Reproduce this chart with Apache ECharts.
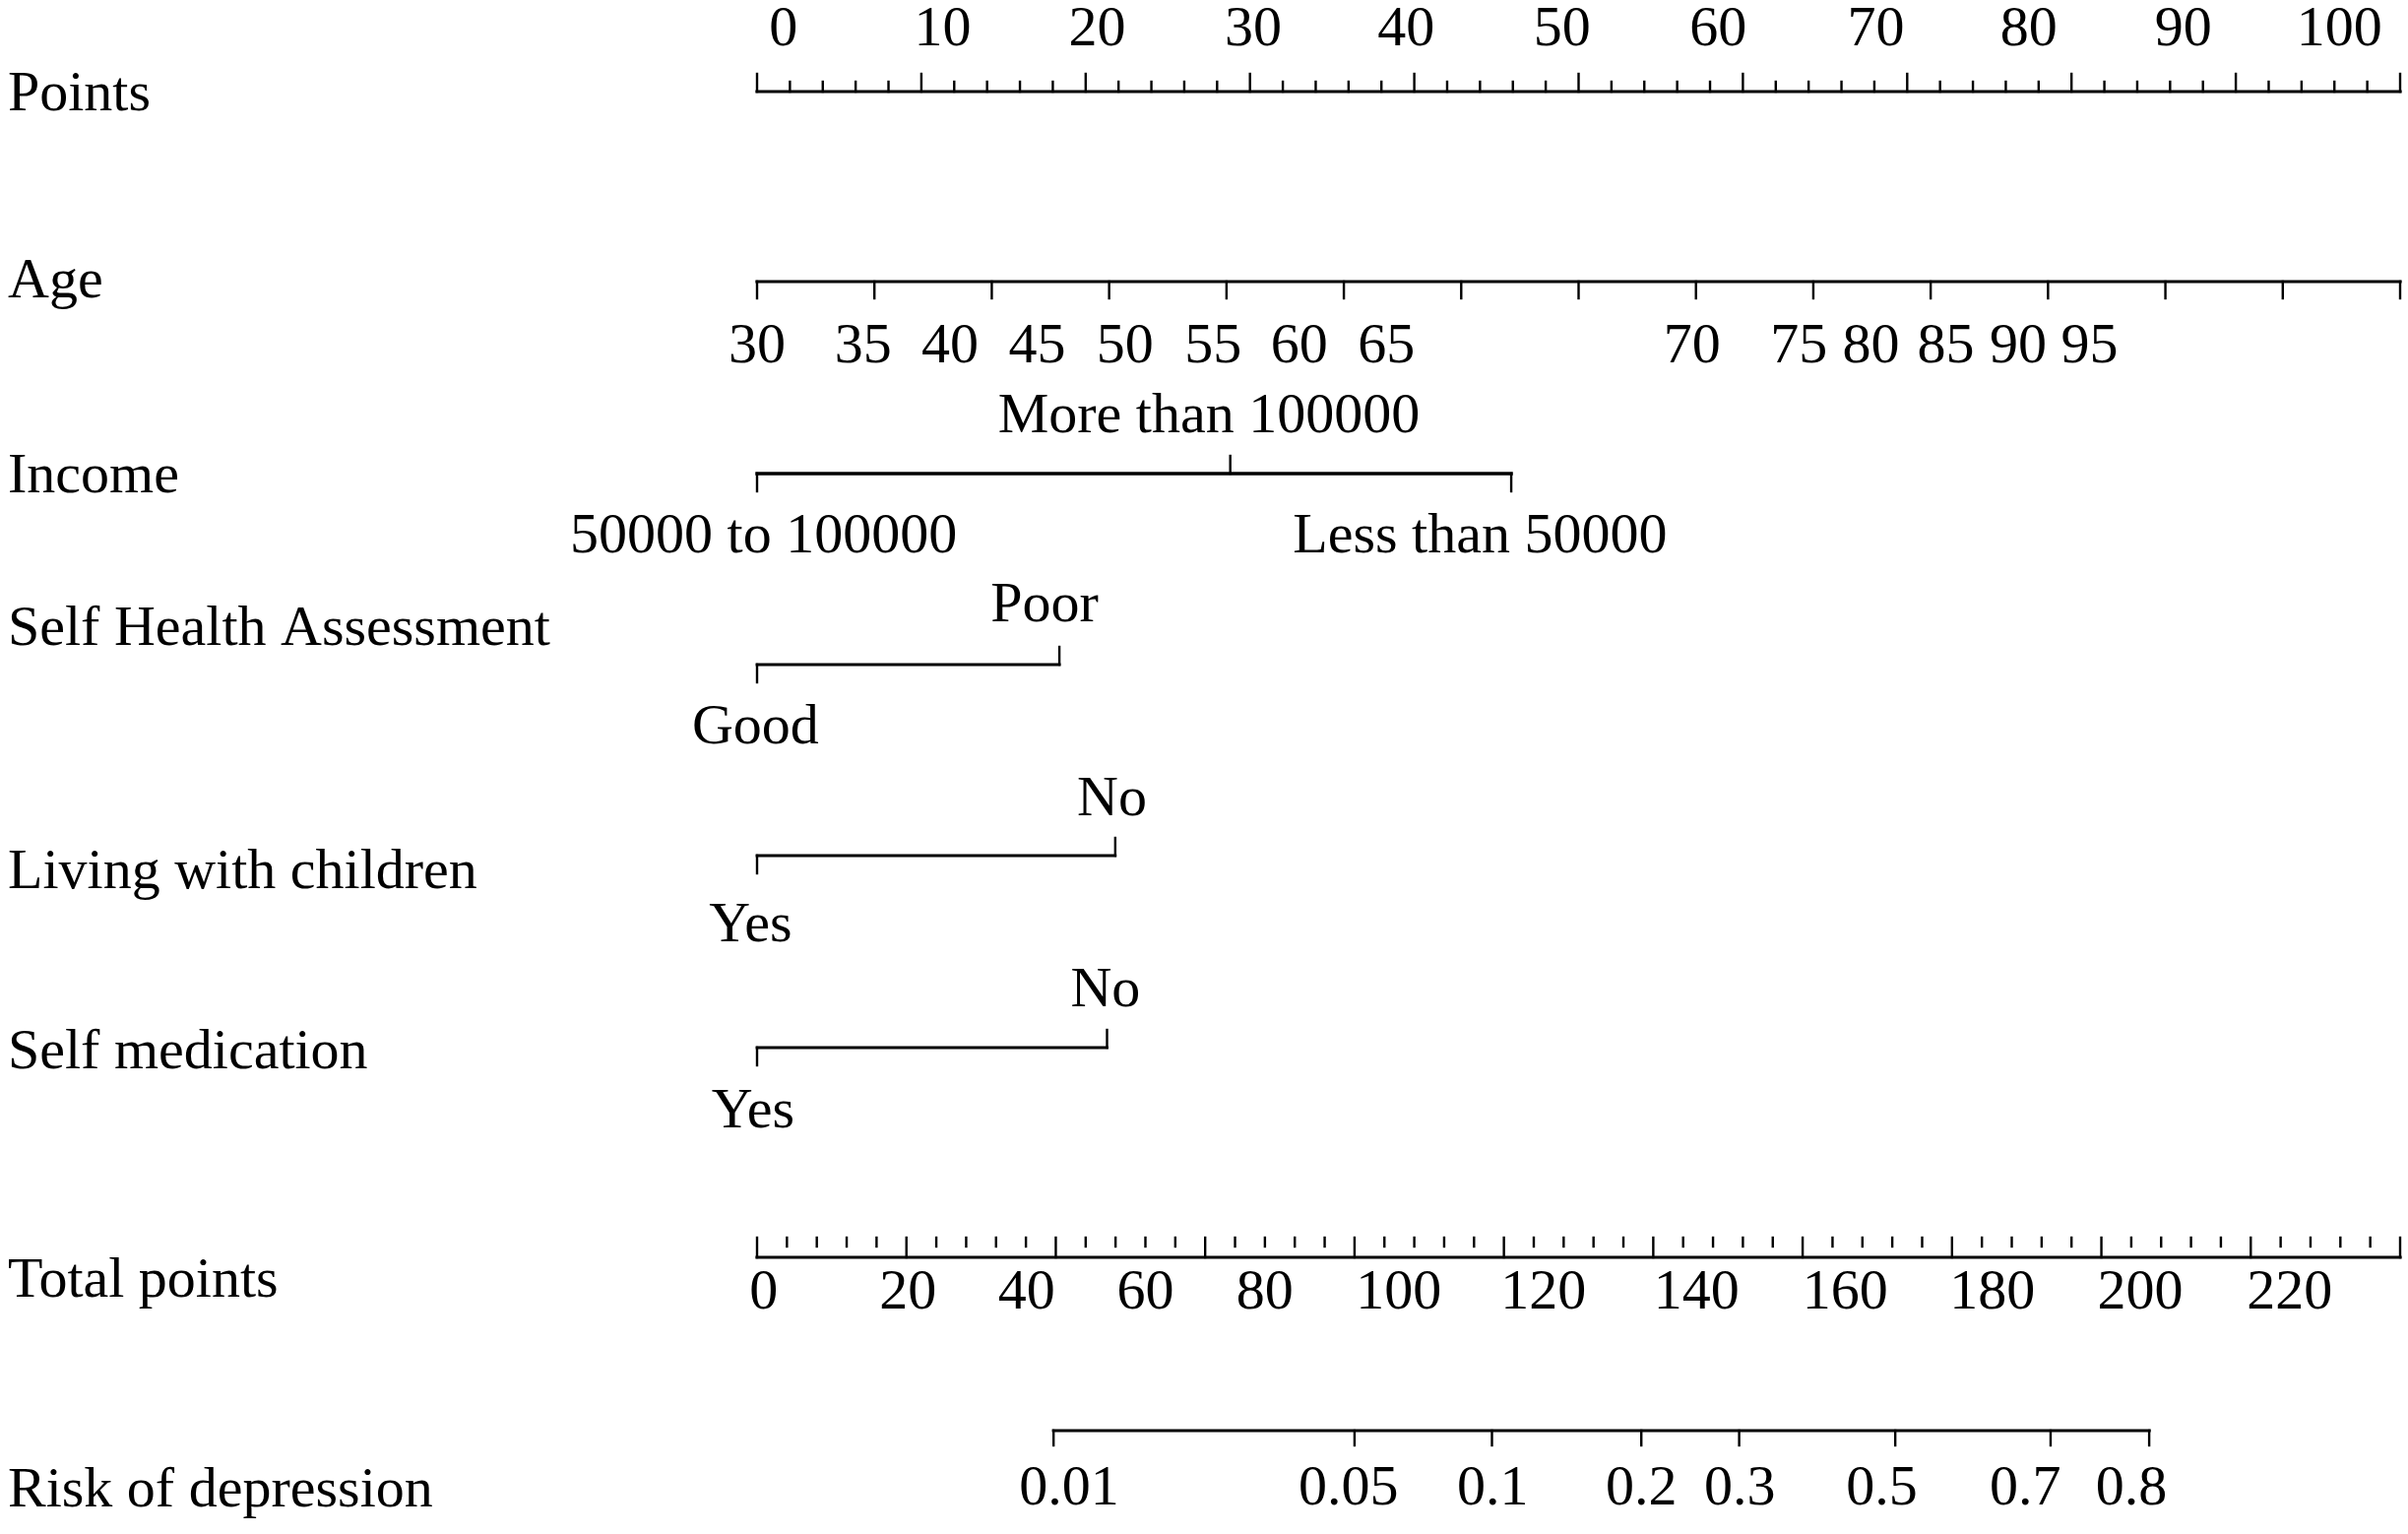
<!DOCTYPE html>
<html>
<head>
<meta charset="utf-8">
<script src="https://cdn.jsdelivr.net/npm/echarts@6/dist/echarts.min.js"></script>
<style>
  html, body { margin: 0; padding: 0; background: #fff; }
  #nomogram { width: 2446px; height: 1558px; }
</style>
</head>
<body>
<div id="nomogram"></div>
<script>
// row names, top to bottom
var rowNames = ['Points', 'Age', 'Income', 'Self Health Assessment',
  'Living with children', 'Self medication', 'Total points', 'Risk of depression'];

// points scale (0-100): tick labels and where each label sits on the scale
var pointsLabels = [0, 10, 20, 30, 40, 50, 60, 70, 80, 90, 100];
var pointsLabelAt = [1.6, 11.3, 20.7, 30.2, 39.5, 49.0, 58.5, 68.1, 77.4, 86.8, 96.3];

// age: value -> points
var ageLabels = [30, 35, 40, 45, 50, 55, 60, 65, 70, 75, 80, 85, 90, 95];
var agePoints = [0, 6.45, 11.75, 17.05, 22.4, 27.75, 33.0, 38.3, 56.9, 63.4, 67.8, 72.35, 76.75, 81.1];
var ageTickSteps = 14;

// categorical predictors: level -> points
var incomeLevels = ['50000 to 100000', 'More than 100000', 'Less than 50000'];
var incomePoints = [0, 28.8, 45.9];
var incomeLabelAt = [0.4, 27.5, 44.0];

var healthLevels = ['Good', 'Poor'];
var healthPoints = [0, 18.4];
var healthLabelAt = [-0.1, 17.5];

var childrenLevels = ['Yes', 'No'];
var childrenPoints = [0, 21.8];
var childrenLabelAt = [-0.4, 21.6];

var medicationLevels = ['Yes', 'No'];
var medicationPoints = [0, 21.3];
var medicationLabelAt = [-0.25, 21.2];

// total points scale (0-220)
var totalLabels = [0, 20, 40, 60, 80, 100, 120, 140, 160, 180, 200, 220];
var totalLabelAt = [0.9, 20.2, 36.1, 52.0, 68.0, 85.9, 105.3, 125.8, 145.7, 165.4, 185.2, 205.2];

// risk: probability -> total points
var riskLabels = ['0.01', '0.05', '0.1', '0.2', '0.3', '0.5', '0.7', '0.8'];
var riskPoints = [39.7, 80.0, 98.4, 118.4, 131.5, 152.4, 173.2, 186.4];
var riskLabelAt = [41.8, 79.2, 98.5, 118.4, 131.6, 150.6, 169.8, 184.0];

// vertical layout (px)
var rowLabelY = [97, 287, 485, 640, 887, 1070, 1302, 1515];
var lineY = { points: 93, age: 286, income: 481, health: 675, children: 869, medication: 1064, total: 1277, risk: 1453 };
var FONT = '58px "Liberation Serif", "Times New Roman", serif';
var TICK = 18;

var segP = [], segT = [], txtP = [], txtT = [];
function seg(arr, x1, y1, x2, y2, w) { arr.push([x1, y1, x2, y2, w]); }
function txt(arr, x, y, s) { arr.push({ value: [x, y], name: String(s) }); }

// Points axis
seg(segP, 0, lineY.points, 100, lineY.points, 3.2);
for (var v = 0; v <= 100; v += 2) {
  var major = v % 10 === 0;
  seg(segP, v, lineY.points, v, lineY.points - (major ? 18 : 10), 2.4);
}
pointsLabels.forEach(function (l, i) { txt(txtP, pointsLabelAt[i], 31, l); });

// Age axis
seg(segP, 0, lineY.age, 100, lineY.age, 3.2);
for (var k = 0; k <= ageTickSteps; k++) {
  var a = k * 100 / ageTickSteps;
  seg(segP, a, lineY.age, a, lineY.age + 17, 2.4);
}
ageLabels.forEach(function (l, i) { txt(txtP, agePoints[i], 353, l); });

// categorical rows: even levels below, odd levels above
function catRow(levels, pts, labelAt, y, w, up_off, down_off) {
  seg(segP, Math.min.apply(null, pts), y, Math.max.apply(null, pts), y, w);
  levels.forEach(function (l, i) {
    var up = i % 2 === 1;
    seg(segP, pts[i], y, pts[i], up ? y - TICK : y + TICK, 2.4);
    txt(txtP, labelAt[i], up ? y - up_off : y + down_off, l);
  });
}
catRow(incomeLevels, incomePoints, incomeLabelAt, lineY.income, 3.4, 57, 65);
catRow(healthLevels, healthPoints, healthLabelAt, lineY.health, 2.8, 59, 65);
catRow(childrenLevels, childrenPoints, childrenLabelAt, lineY.children, 2.8, 56, 72);
catRow(medicationLevels, medicationPoints, medicationLabelAt, lineY.medication, 2.8, 57, 66);

// Total points axis (minor ticks float above the line)
seg(segT, 0, lineY.total, 220, lineY.total, 3.2);
for (var t = 0; t <= 220; t += 4) {
  if (t % 20 === 0) seg(segT, t, lineY.total, t, lineY.total - 20, 2.4);
  else seg(segT, t, lineY.total - 11, t, lineY.total - 20, 2.4);
}
totalLabels.forEach(function (l, i) { txt(txtT, totalLabelAt[i], 1314, l); });

// Risk axis
seg(segT, riskPoints[0], lineY.risk, riskPoints[riskPoints.length - 1], lineY.risk, 3.2);
riskPoints.forEach(function (p) { seg(segT, p, lineY.risk, p, lineY.risk + 15, 2.4); });
riskLabels.forEach(function (l, i) { txt(txtT, riskLabelAt[i], 1513, l); });

function renderSeg(params, api) {
  var p1 = api.coord([api.value(0), api.value(1)]);
  var p2 = api.coord([api.value(2), api.value(3)]);
  return {
    type: 'line',
    shape: { x1: p1[0], y1: p1[1], x2: p2[0], y2: p2[1] },
    style: { stroke: '#000', lineWidth: api.value(4), lineCap: 'square' }
  };
}

function textRenderer(list) {
  return function (params, api) {
    var p = api.coord([api.value(0), api.value(1)]);
    return {
      type: 'text', x: p[0], y: p[1],
      style: {
        text: list[params.dataIndex].name, font: FONT, fill: '#000',
        textAlign: 'center', textVerticalAlign: 'middle', align: 'center', verticalAlign: 'middle'
      }
    };
  };
}

var option = {
  animation: false,
  backgroundColor: '#fff',
  grid: { left: 769, right: 8, top: 0, bottom: 0 },
  xAxis: [
    { type: 'value', min: 0, max: 100, show: false },
    { type: 'value', min: 0, max: 220, show: false }
  ],
  yAxis: { type: 'value', min: 0, max: 1558, inverse: true, show: false },
  graphic: rowNames.map(function (n, i) {
    return {
      type: 'text', x: 8, y: rowLabelY[i],
      style: { text: n, font: FONT, fill: '#000', textVerticalAlign: 'middle', verticalAlign: 'middle' }
    };
  }),
  series: [
    { type: 'custom', xAxisIndex: 0, renderItem: renderSeg, data: segP, silent: true },
    { type: 'custom', xAxisIndex: 1, renderItem: renderSeg, data: segT, silent: true },
    { type: 'custom', xAxisIndex: 0, renderItem: textRenderer(txtP), data: txtP, silent: true },
    { type: 'custom', xAxisIndex: 1, renderItem: textRenderer(txtT), data: txtT, silent: true }
  ]
};

var chart = echarts.init(document.getElementById('nomogram'));
chart.setOption(option);
</script>
</body>
</html>
